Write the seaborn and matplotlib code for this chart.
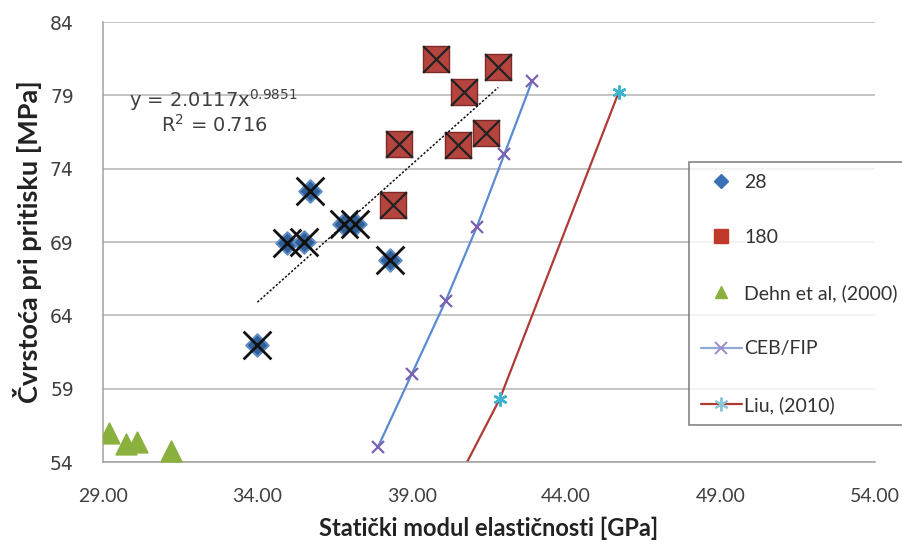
import numpy as np
import matplotlib
matplotlib.use('Agg')
import matplotlib.pyplot as plt
from matplotlib.lines import Line2D
from matplotlib.ticker import FormatStrFormatter
import seaborn as sns

# 28 dana
e28 = [34.0, 34.95, 35.5, 35.7, 36.8, 37.15, 38.3]
f28 = [62.0, 68.9, 69.0, 72.5, 70.2, 70.2, 67.8]

# 180 dana
e180 = [39.8, 41.8, 40.7, 38.6, 40.5, 41.4, 38.4]
f180 = [81.5, 80.9, 79.2, 75.7, 75.6, 76.4, 71.5]

# Dehn et al, (2000)
e_dehn = [29.2, 29.75, 30.1, 31.2]
f_dehn = [56.0, 55.2, 55.35, 54.75]

# CEB/FIP
e_ceb = [37.9, 39.0, 40.1, 41.1, 42.0, 42.9]
f_ceb = [55, 60, 65, 70, 75, 80]

# Liu, (2010)
e_liu = [40.3, 41.85, 45.7]
f_liu = [52.0, 58.3, 79.2]

# trend (power) koeficijenti
a_fit, b_fit = 2.0117, 0.9851

x_ticks = [29, 34, 39, 44, 49, 54]
y_ticks = [54, 59, 64, 69, 74, 79, 84]

sns.set_style('white')
plt.rcParams['mathtext.default'] = 'regular'

fig, ax = plt.subplots(figsize=(9.02, 5.42), dpi=100)
fig.subplots_adjust(left=0.1142, right=0.970, bottom=0.1476, top=0.9594)

ax.yaxis.grid(True, color='#b4b4b4', lw=1.1)
ax.set_axisbelow(True)

c28 = '#2F5F96'
c180 = '#B5443F'
cdehn = '#8AB03E'

# 28 dana - romb + crni x
sns.scatterplot(x=e28, y=f28, marker='D', s=130, color=c28, edgecolor='#5E8CC4',
                linewidth=1.5, ax=ax, legend=False, zorder=3)
sns.scatterplot(x=e28, y=f28, marker='x', s=400, color='#111111', linewidth=2.0,
                ax=ax, legend=False, zorder=4)

# 180 dana - kvadrat + crni x
sns.scatterplot(x=e180, y=f180, marker='s', s=330, color=c180, edgecolor='#7a2a27',
                linewidth=1.0, ax=ax, legend=False, zorder=3)
sns.scatterplot(x=e180, y=f180, marker='x', s=370, color='#222222', linewidth=1.6,
                ax=ax, legend=False, zorder=4)

# Dehn
sns.scatterplot(x=e_dehn, y=f_dehn, marker='^', s=220, color=cdehn, edgecolor=cdehn,
                ax=ax, legend=False, zorder=3)

# CEB/FIP
sns.lineplot(x=e_ceb, y=f_ceb, sort=False, estimator=None, color='#5B8BD0', lw=1.6,
             marker='x', markersize=9, markeredgecolor='#7C62B0', markeredgewidth=1.6,
             ax=ax, zorder=2)

# Liu
sns.lineplot(x=e_liu, y=f_liu, sort=False, estimator=None, color='#B03A36', lw=1.6,
             marker=(6, 2, 0), markersize=10, markeredgecolor='#3DB3D0', markeredgewidth=1.8,
             ax=ax, zorder=2)

# trend linija
x_fit = np.linspace(min(e28), max(e180), 60)
ax.plot(x_fit, a_fit * x_fit ** b_fit, color='#111111', lw=1.1, ls=(0, (1.5, 1.2)), zorder=5)

fig.text(0.237, 0.815, 'y = 2.0117x$^{0.9851}$', ha='center', va='center',
         fontsize=14, color='#404040', family='DejaVu Sans')
fig.text(0.238, 0.769, 'R$^{2}$ = 0.716', ha='center', va='center',
         fontsize=14, color='#404040', family='DejaVu Sans')

ax.set_xlim(29, 54)
ax.set_ylim(54, 84)
ax.set_xticks(x_ticks)
ax.set_yticks(y_ticks)
ax.xaxis.set_major_formatter(FormatStrFormatter('%.2f'))

for lab in ax.get_xticklabels():
    lab.set_fontfamily('Lato')
    lab.set_fontsize(14)
    lab.set_color('#404040')
for lab in ax.get_yticklabels():
    lab.set_fontfamily('DejaVu Sans')
    lab.set_fontsize(13.5)
    lab.set_color('#404040')

ax.tick_params(axis='x', direction='inout', length=8, color='#a0a0a0', pad=15)
ax.tick_params(axis='y', direction='out', length=9, color='#a0a0a0', pad=12)

sns.despine(ax=ax)
for s in ['left', 'bottom']:
    ax.spines[s].set_color('#a0a0a0')
    ax.spines[s].set_linewidth(1.1)

ax.set_xlabel('Statički modul elastičnosti [GPa]', fontsize=17, fontweight='bold',
              family='Lato', color='#222222', labelpad=8)
ax.set_ylabel('Čvrstoća pri pritisku [MPa]', fontsize=19.5, fontweight='bold',
              family='Lato', color='#222222', labelpad=6)

handles = [
    Line2D([], [], ls='none', marker='D', markersize=7, color='#3A70B5'),
    Line2D([], [], ls='none', marker='s', markersize=10, color='#C0392B'),
    Line2D([], [], ls='none', marker='^', markersize=9, color=cdehn),
    Line2D([], [], color='#8FA8D8', lw=1.6, marker='x', markersize=9,
           markeredgecolor='#9A8CC8', markeredgewidth=1.4),
    Line2D([], [], color='#B03A36', lw=1.6, marker=(6, 2, 0), markersize=10,
           markeredgecolor='#8CC8D8', markeredgewidth=1.4),
]
labels = ['28', '180', 'Dehn et al, (2000)', 'CEB/FIP', 'Liu, (2010)']
leg = ax.legend(handles, labels, loc='upper left', bbox_to_anchor=(0.7639, 0.7011),
                bbox_transform=fig.transFigure, frameon=True, fancybox=False,
                labelspacing=1.97, borderpad=0.6, handlelength=2.1, handletextpad=0.15,
                borderaxespad=0, prop={'family': 'Lato', 'size': 14})
leg.get_frame().set_edgecolor('#666666')
leg.get_frame().set_linewidth(1.2)
for t in leg.get_texts():
    t.set_color('#333333')

plt.savefig('out.png', dpi=100)
